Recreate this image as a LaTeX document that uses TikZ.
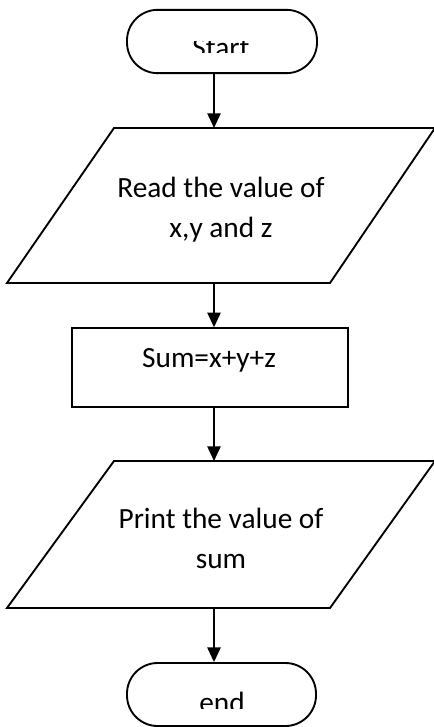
\documentclass[tikz,border=0pt]{standalone}
\usepackage{fontspec}
\setmainfont{Carlito}
\usetikzlibrary{arrows.meta}

\begin{document}
\begin{tikzpicture}[x=0.75pt,y=-0.75pt,line join=miter,
  box/.style={draw,line width=1.4pt,inner sep=0pt},
  flow/.style={line width=1.2pt,-{Triangle[length=11pt,width=10pt]}},
  lbl/.style={font=\fontsize{22}{26}\selectfont,inner sep=0pt,anchor=base}]
  \useasboundingbox (0,0) rectangle (433,727);
  % terminals
  \node[box,rounded corners=23pt,minimum width=142.5pt,minimum height=47.5pt] (start) at (222,41.5) {};
  \node[box,rounded corners=23pt,minimum width=141.75pt,minimum height=47.25pt] (end) at (221.5,694.5) {};
  \begin{scope}
    \clip (start.west) rectangle (start.east |- 0,53);
    \node[lbl] (starttxt) at (221,58) {Start};
  \end{scope}
  \begin{scope}
    \clip (end.north west) rectangle (end.east |- 0,708);
    \node[lbl] (endtxt) at (222,712) {end};
  \end{scope}
  % input / output
  \coordinate (p1a) at (114,128); \coordinate (p1b) at (435,128);
  \coordinate (p1c) at (330,283); \coordinate (p1d) at (7,283);
  \draw[line width=1.4pt] (p1a)--(p1b)--(p1c)--(p1d)--cycle;
  \node[lbl] (read) at (221,198) {Read the value of};
  \node[lbl] (readxyz) at (221,238) {x,y and z};
  \coordinate (p2a) at (114,461); \coordinate (p2b) at (435,461);
  \coordinate (p2c) at (330,608); \coordinate (p2d) at (7,608);
  \draw[line width=1.4pt] (p2a)--(p2b)--(p2c)--(p2d)--cycle;
  \node[lbl] (print) at (221,528) {Print the value of};
  \node[lbl] (printsum) at (221,568) {sum};
  % process
  \node[box,minimum width=207pt,minimum height=59pt] (sum) at (210,367.5) {};
  \node[lbl] (sumtxt) at (209,367) {Sum=x+y+z};
  % flow lines
  \coordinate (in1) at (214,128); \coordinate (out1) at (214,283);
  \coordinate (in2) at (214,461); \coordinate (out2) at (214,608);
  \draw[flow] (start.south -| in1) -- (in1);
  \draw[flow] (out1) -- (sum.north -| out1);
  \draw[flow] (sum.south -| in2) -- (in2);
  \draw[flow] (out2) -- (end.north -| out2);
\end{tikzpicture}
\end{document}
